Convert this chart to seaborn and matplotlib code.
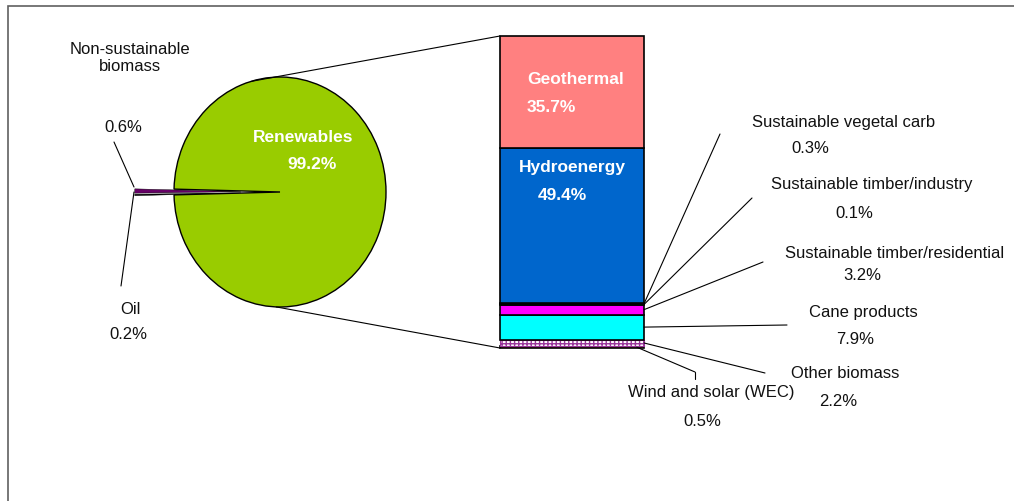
import matplotlib
matplotlib.use('Agg')
import matplotlib.pyplot as plt
import numpy as np
import seaborn as sns
from matplotlib.patches import ConnectionPatch, Rectangle
from matplotlib.lines import Line2D

# pie data
pie_labels = ['Renewables', 'Non-sustainable\nbiomass', 'Oil']
pie_values = [99.2, 0.6, 0.2]
pie_colors = ['#99CC00', '#660066', '#000000']

# bar data (bottom to top)
bar_labels = ['Wind and solar (WEC)', 'Other biomass', 'Cane products',
              'Sustainable timber/residential', 'Sustainable timber/industry',
              'Sustainable vegetal carb', 'Hydroenergy', 'Geothermal']
bar_values = [0.5, 2.2, 7.9, 3.2, 0.1, 0.3, 49.4, 35.7]
bar_colors = ['#993333', 'white', '#00FFFF', '#FF00FF', '#000000',
              '#330033', '#0066CC', '#FF8080']

sns.set_style('white')
plt.rcParams['font.family'] = ['Liberation Sans', 'DejaVu Sans']

W, H = 1014, 502
fig = plt.figure(figsize=(W / 100, H / 100), dpi=100)


def fx(x):
    return x / W


def fy(y):
    return 1 - y / H


# frame (only top and left visible)
fig.add_artist(Rectangle((fx(8), -0.2), 1.2, fy(7) + 0.2, transform=fig.transFigure,
                         fill=False, edgecolor='#606060', lw=1.2))

# ---- pie ----
ax_pie = fig.add_axes([fx(121), fy(319.5), 275.6 / W, 253 / H])
small = sum(pie_values[1:]) / 100 * 360
wedges, _ = ax_pie.pie(pie_values, colors=pie_colors, startangle=180 + small / 2,
                       explode=[0, 0.37, 0.37], counterclock=True,
                       wedgeprops=dict(edgecolor='black', linewidth=1))
for w in wedges[1:]:
    w.set_linewidth(0.3)
ax_pie.set_aspect('auto')
ax_pie.set_xlim(-1.5, 1.1)
ax_pie.set_ylim(-1.1, 1.1)
ax_pie.axis('off')

# ---- stacked bar ----
total = sum(bar_values)
ax_bar = fig.add_axes([fx(500), fy(349), 144 / W, 312 / H])
bottoms = np.concatenate([[0], np.cumsum(bar_values)[:-1]])
for lab, v, b, c in zip(bar_labels, bar_values, bottoms, bar_colors):
    if lab == 'Other biomass':
        ax_bar.bar(0, v, bottom=b, width=1, color=c, edgecolor='#993399',
                   hatch='++++', lw=0.8, clip_on=False)
    else:
        ax_bar.bar(0, v, bottom=b, width=1, color=c, edgecolor='black',
                   lw=1.2, clip_on=False)
ax_bar.set_xlim(-0.5, 0.5)
ax_bar.set_ylim(0, total)
ax_bar.axis('off')

# connection lines pie -> bar
for ang, yb in [(106, total), (268, 0)]:
    a = np.deg2rad(ang)
    con = ConnectionPatch(xyA=(np.cos(a), np.sin(a)), coordsA=ax_pie.transData,
                          xyB=(-0.5, yb), coordsB=ax_bar.transData,
                          color='black', lw=0.8)
    fig.add_artist(con)

fs = 12
txt = dict(fontsize=fs, color='#111111', ha='center', va='center')

# pie labels
fig.text(fx(130), fy(58), pie_labels[1], linespacing=1.15, **txt)
fig.text(fx(123), fy(127), f'{pie_values[1]}%', **txt)
fig.text(fx(130), fy(309), pie_labels[2], **txt)
fig.text(fx(128), fy(335), f'{pie_values[2]}%', **txt)
fig.text(fx(303), fy(137), pie_labels[0], fontsize=12.5, color='white',
         fontweight='bold', ha='center', va='center')
fig.text(fx(312), fy(165), f'{pie_values[0]}%', fontsize=12.5, color='white',
         fontweight='bold', ha='center', va='center')
for (x0, y0), (x1, y1) in [((114, 143), (134, 188)), ((134, 193), (121, 287))]:
    fig.add_artist(Line2D([fx(x0), fx(x1)], [fy(y0), fy(y1)], color='black', lw=0.8))

# bar inner labels
fig.text(fx(527), fy(80), bar_labels[7], fontsize=12.5, color='white',
         fontweight='bold', ha='left', va='center')
fig.text(fx(527), fy(108), f'{bar_values[7]}%', fontsize=12.5, color='white',
         fontweight='bold', ha='left', va='center')
fig.text(fx(572), fy(168), bar_labels[6], fontsize=12.5, color='white',
         fontweight='bold', ha='center', va='center')
fig.text(fx(562), fy(196), f'{bar_values[6]}%', fontsize=12.5, color='white',
         fontweight='bold', ha='center', va='center')

# outer labels: (name center, value center, leader end, x on bar)
outer = {
    'Sustainable vegetal carb': ((844, 122), (810, 149), (720, 135), 0.5),
    'Sustainable timber/industry': ((872, 185), (854, 213), (752, 199), 0.5),
    'Sustainable timber/residential': ((895, 253), (862, 276), (763, 263), 0.5),
    'Cane products': ((863, 312), (855, 340), (787, 326), 0.5),
    'Other biomass': ((845, 373), (838, 402), (765, 374), 0.5),
    'Wind and solar (WEC)': ((711, 393), (702, 422), (695, 373), 0.45),
}
for i, lab in enumerate(bar_labels):
    if lab not in outer:
        continue
    (nx, ny), (vx, vy), (lx, ly), bx = outer[lab]
    fig.text(fx(nx), fy(ny), lab, **txt)
    fig.text(fx(vx), fy(vy), f'{bar_values[i]}%', **txt)
    mid = bottoms[i] + bar_values[i] / 2
    ax_bar.annotate('', xy=(bx, mid), xycoords='data',
                    xytext=(lx, H - ly), textcoords='figure pixels',
                    arrowprops=dict(arrowstyle='-', lw=0.8, color='black',
                                    shrinkA=0, shrinkB=0))
fig.add_artist(Line2D([fx(695), fx(695)], [fy(373), fy(380)], color='black', lw=0.8))

fig.savefig('out.png', dpi=100)
